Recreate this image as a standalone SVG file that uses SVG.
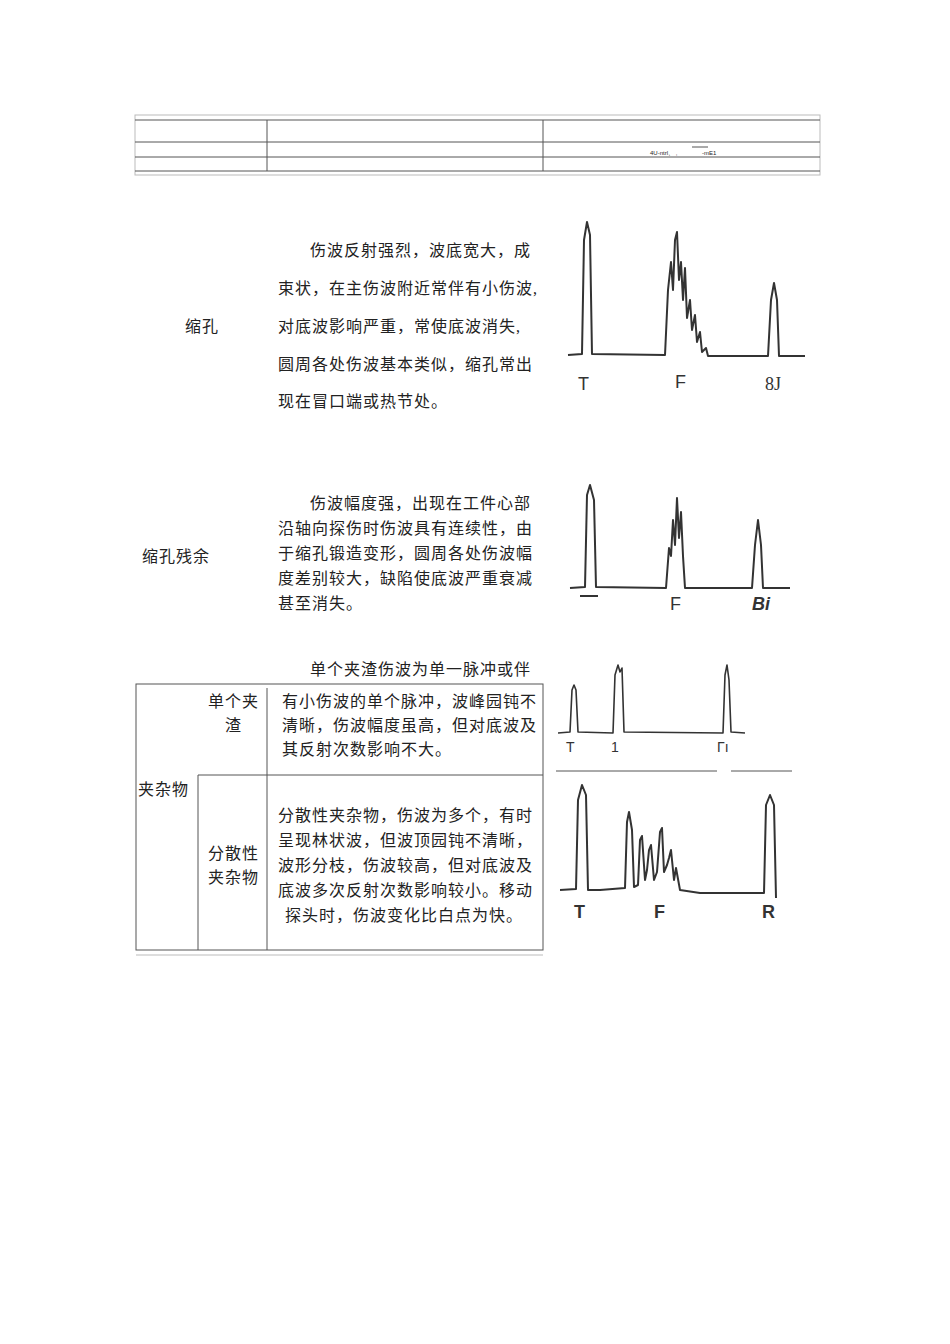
<svg xmlns="http://www.w3.org/2000/svg" width="950" height="1344" viewBox="0 0 950 1344">
<style>
text{font-family:"Liberation Serif","Noto Sans CJK SC",serif;font-size:16px;letter-spacing:1px;fill:#222}
.l{stroke:#555;stroke-width:1;fill:none}
.g{stroke:#bbb;stroke-width:1;fill:none}
.w{stroke:#333;stroke-width:2;fill:none;stroke-linejoin:round}
.lab{font-family:"Liberation Sans",sans-serif;font-size:18px;letter-spacing:0;fill:#333}
</style>
<rect width="950" height="1344" fill="#fff"/>
<g id="toptable">
<rect class="g" x="135" y="115" width="685" height="60"/>
<line class="l" x1="135" y1="120" x2="820" y2="120"/>
<line class="l" x1="135" y1="142" x2="820" y2="142"/>
<line class="l" x1="135" y1="157" x2="820" y2="157"/>
<line class="l" x1="135" y1="171" x2="820" y2="171"/>
<line class="l" x1="267" y1="120" x2="267" y2="171"/>
<line class="l" x1="543" y1="120" x2="543" y2="171"/>
<text x="650" y="155" style="font-family:'Liberation Sans',sans-serif;font-size:6px;letter-spacing:0">4U-ntrl、  ,</text>
<text x="702" y="155" style="font-family:'Liberation Sans',sans-serif;font-size:6px;letter-spacing:0">-mE1</text>
<line class="l" x1="692" y1="147" x2="708" y2="147"/>
</g>
<g id="sec1">
<text x="185" y="332">缩孔</text>
<text x="310" y="256">伤波反射强烈，波底宽大，成</text>
<text x="278" y="294">束状，在主伤波附近常伴有小伤波,</text>
<text x="278" y="332">对底波影响严重，常使底波消失,</text>
<text x="278" y="370">圆周各处伤波基本类似，缩孔常出</text>
<text x="278" y="407">现在冒口端或热节处。</text>
<polyline class="w" points="568,355 582,354 584,240 587,222 590,235 592,354 665,355 668,290 671,262 673,290 675,240 677,232 679,280 681,262 683,300 685,268 687,318 690,300 692,330 695,315 697,342 700,332 702,352 706,348 708,356 768,356 771,300 774,283 777,300 779,356 805,356"/>
<text class="lab" x="578" y="390">T</text>
<text class="lab" x="675" y="388">F</text>
<text class="lab" x="765" y="390" style="font-family:'Liberation Serif',serif">8J</text>
</g>
<g id="sec2">
<text x="142" y="562">缩孔残余</text>
<text x="310" y="509">伤波幅度强，出现在工件心部</text>
<text x="278" y="534">沿轴向探伤时伤波具有连续性，由</text>
<text x="278" y="559">于缩孔锻造变形，圆周各处伤波幅</text>
<text x="278" y="584">度差别较大，缺陷使底波严重衰减</text>
<text x="278" y="609">甚至消失。</text>
<polyline class="w" points="570,588 585,587 587,495 590,485 594,500 596,587 666,588 669,548 671,556 673,520 675,545 677,498 679,538 681,512 683,556 685,588 752,588 755,545 758,520 761,545 763,588 790,588"/>
<line class="w" x1="580" y1="596" x2="598" y2="596"/>
<text class="lab" x="670" y="610">F</text>
<text class="lab" x="752" y="610" style="font-style:italic;font-weight:bold">Bi</text>
</g>
<g id="sec3">
<text x="310" y="675">单个夹渣伤波为单一脉冲或伴</text>
<rect class="l" x="136" y="684" width="407" height="266"/>
<line class="g" x1="136" y1="955" x2="543" y2="955"/>
<line class="l" x1="267" y1="688" x2="267" y2="950"/>
<line class="l" x1="198" y1="775" x2="543" y2="775"/>
<line class="l" x1="198" y1="775" x2="198" y2="950"/>
<text x="208" y="707">单个夹</text>
<text x="225" y="731">渣</text>
<text x="282" y="707">有小伤波的单个脉冲，波峰园钝不</text>
<text x="282" y="731">清晰，伤波幅度虽高，但对底波及</text>
<text x="282" y="755">其反射次数影响不大。</text>
<text x="138" y="795">夹杂物</text>
<text x="208" y="859">分散性</text>
<text x="208" y="883">夹杂物</text>
<text x="278" y="821">分散性夹杂物，伤波为多个，有时</text>
<text x="278" y="846">呈现林状波，但波顶园钝不清晰，</text>
<text x="278" y="871">波形分枝，伤波较高，但对底波及</text>
<text x="278" y="896">底波多次反射次数影响较小。移动</text>
<text x="285" y="921">探头时，伤波变化比白点为快。</text>
<polyline class="w" style="stroke-width:1.6" points="558,733 570,732 572,690 574,685 576,690 578,732 613,733 615,675 618,665 620,672 622,668 624,732 723,733 725,675 727,665 729,680 731,732 745,733"/>
<text class="lab" x="566" y="752" style="font-size:14px">T</text>
<text class="lab" x="611" y="752" style="font-size:14px">1</text>
<text class="lab" x="717" y="752" style="font-size:14px">Γı</text>
<line class="l" x1="556" y1="771" x2="717" y2="771"/>
<line class="l" x1="731" y1="771" x2="792" y2="771"/>
<polyline class="w" points="560,890 576,889 578,800 582,785 586,795 588,890 600,890 625,888 627,822 629,812 632,830 634,887 638,885 640,840 642,836 645,880 647,870 649,850 651,845 654,880 657,872 660,832 662,828 664,872 667,865 669,858 671,850 674,880 676,868 680,890 700,893 740,893 764,893 766,805 770,795 774,805 776,898"/>
<text class="lab" x="574" y="918" style="font-weight:bold">T</text>
<text class="lab" x="654" y="918" style="font-weight:bold">F</text>
<text class="lab" x="762" y="918" style="font-weight:bold">R</text>
</g>
</svg>
